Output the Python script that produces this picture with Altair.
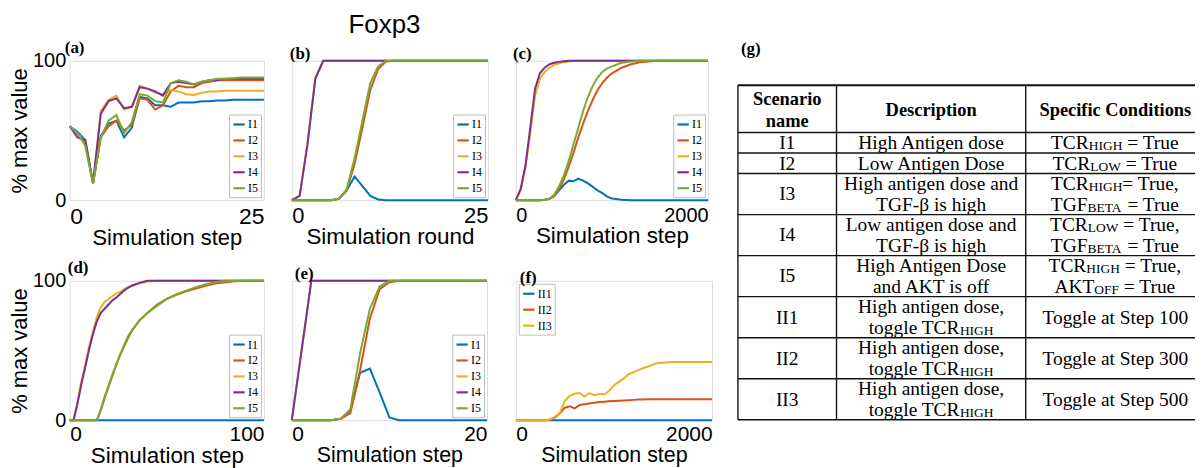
import re
import altair as alt
import pandas as pd

SANS = "Liberation Sans, Arial, Helvetica, sans-serif"
SERIF = "Liberation Serif, Times New Roman, serif"

I_NAMES = ["I1", "I2", "I3", "I4", "I5"]
I_COLORS = ["#0072BD", "#D95319", "#EDB120", "#7E2F8E", "#77AC30"]
II_NAMES = ["II1", "II2", "II3"]
II_COLORS = ["#0072BD", "#D95319", "#EDB120"]

# ---------------- panel (a) ----------------
a_x = [0, 1, 2, 3, 4, 5, 6, 7, 8, 9, 10, 11, 12, 13, 14, 15, 16, 17, 18, 19, 20, 21, 22, 23, 24, 25]
a_I1 = [53, 49, 43, 12, 46, 55, 57, 45, 52, 74, 73, 68, 68, 67, 70, 70, 70, 71, 71, 71.5, 71.5, 72, 72, 72, 72, 72]
a_I2 = [53, 48, 40, 12, 45, 53, 57, 50, 54, 73, 72, 65, 68, 78, 82, 81, 81, 84, 85, 86, 86, 86, 86, 86, 86, 86]
a_I3 = [53, 48, 41, 12, 64, 72, 75, 65, 67, 82, 80, 77, 76, 79, 78, 76, 75.5, 77, 78, 78, 78.5, 78.5, 78.5, 78.5, 78.5, 78.5]
a_I4 = [53, 45, 43, 12, 62, 71, 73, 66, 67, 81, 80, 78, 75, 84, 85, 84, 83, 85, 86, 86, 87, 87, 87, 87, 87, 87]
a_I5 = [53, 48, 39, 12, 45, 57, 61, 48, 56, 76, 75, 71, 70, 84, 86, 85, 83, 85, 86, 87, 87, 87.5, 88, 88, 88, 88]

# ---------------- panel (b) ----------------
b_x = [0, 1, 2, 3, 4, 5, 6, 7, 8, 9, 10, 11, 12, 13, 14, 15, 16, 17, 18, 19, 20, 21, 22, 23, 24, 25]
b_I1 = [0, 0, 0, 0, 0, 0, 1, 7, 17, 10, 3, 0.5, 0, 0, 0, 0, 0, 0, 0, 0, 0, 0, 0, 0, 0, 0]
b_I2 = [0, 0, 0, 0, 0, 0, 1, 7, 26, 52, 79, 94, 99.5, 100, 100, 100, 100, 100, 100, 100, 100, 100, 100, 100, 100, 100]
b_I3 = [0, 3, 41, 88, 100, 100, 100, 100, 100, 100, 100, 100, 100, 100, 100, 100, 100, 100, 100, 100, 100, 100, 100, 100, 100, 100]
b_I4 = [0, 3, 40, 87, 100, 100, 100, 100, 100, 100, 100, 100, 100, 100, 100, 100, 100, 100, 100, 100, 100, 100, 100, 100, 100, 100]
b_I5 = [0, 0, 0, 0, 0, 0, 1, 8, 30, 57, 84, 96, 100, 100, 100, 100, 100, 100, 100, 100, 100, 100, 100, 100, 100, 100]

# ---------------- panel (c) ----------------
c_x = [0, 50, 100, 150, 200, 250, 300, 350, 400, 450, 500, 550, 600, 650, 700, 750, 800, 850, 900, 950,
       1000, 1100, 1200, 1300, 1400, 1500, 1600, 1700, 1800, 1900, 2000]
c_I1 = [0, 0, 0, 0, 0, 0, 0.3, 1, 3, 7, 11, 14, 13.5, 15.5, 14, 12, 9.5, 7, 5, 2.5, 1.2, 0.3, 0, 0, 0, 0, 0, 0, 0, 0, 0]
c_I2 = [0, 0, 0, 0, 0, 0, 0.3, 1, 3, 8, 15, 24, 34, 45, 55, 64, 72, 79, 84, 88, 91, 95, 97.5, 99, 99.7, 100, 100, 100, 100, 100, 100]
c_I3 = [0, 7, 23, 48, 75, 87, 92, 95, 97, 98.2, 99, 99.5, 99.8, 100, 100, 100, 100, 100, 100, 100, 100, 100, 100, 100, 100, 100, 100, 100, 100, 100, 100]
c_I4 = [0, 8, 25, 52, 80, 91, 95, 97.5, 98.5, 99.2, 99.6, 100, 100, 100, 100, 100, 100, 100, 100, 100, 100, 100, 100, 100, 100, 100, 100, 100, 100, 100, 100]
c_I5 = [0, 0, 0, 0, 0, 0, 0.3, 1, 4, 10, 18, 28, 40, 52, 64, 74, 82, 88, 92, 94.5, 96, 98.5, 99.5, 100, 100, 100, 100, 100, 100, 100, 100]

# ---------------- panel (d) ----------------
d_x = [0, 2, 4, 6, 8, 10, 12, 14, 16, 18, 20, 22, 24, 26, 28, 30, 32, 34, 36, 38, 40, 45, 50, 55, 60, 65, 70, 75, 80, 85, 90, 95, 100]
d_I1 = [0, 0, 0, 0, 0, 0, 0, 0, 0, 0, 0, 0, 0, 0, 0, 0, 0, 0, 0, 0, 0, 0, 0, 0, 0, 0, 0, 0, 0, 0, 0, 0, 0]
d_I2 = [0, 0, 0, 0, 0, 0, 0, 0, 7, 16, 24, 32, 40, 47, 53, 59, 64, 68, 72, 74, 77, 83, 87, 90, 92.5, 94.5, 96.5, 98, 99, 99.7, 100, 100, 100]
d_I3 = [0, 0.5, 13, 28, 40, 53, 64, 74, 81, 85, 87, 89, 91, 92, 94, 95.5, 96.5, 97.5, 98.3, 99, 99.5, 100, 100, 100, 100, 100, 100, 100, 100, 100, 100, 100, 100]
d_I4 = [0, 0, 12, 26, 38, 51, 62, 71, 77, 80, 83, 86, 88, 90.5, 93, 95, 96.5, 97.5, 98.5, 99.3, 100, 100, 100, 100, 100, 100, 100, 100, 100, 100, 100, 100, 100]
d_I5 = [0, 0, 0, 0, 0, 0, 0, 0, 8, 17, 25, 33, 40, 47, 54, 60, 64.5, 68, 71.5, 74.5, 77, 82, 87, 90.5, 93, 95.5, 97.5, 99, 100, 100, 100, 100, 100]

# ---------------- panel (e) ----------------
e_x = [0, 1, 2, 3, 4, 5, 6, 7, 8, 9, 10, 11, 12, 13, 14, 15, 16, 17, 18, 19, 20]
e_I1 = [0, 0, 0, 0, 0, 1, 7, 34, 37, 20, 2, 0, 0, 0, 0, 0, 0, 0, 0, 0, 0]
e_I2 = [0, 0, 0, 0, 0, 1, 5, 36, 73, 94, 99, 100, 100, 100, 100, 100, 100, 100, 100, 100, 100]
e_I3 = [0, 50, 100, 100, 100, 100, 100, 100, 100, 100, 100, 100, 100, 100, 100, 100, 100, 100, 100, 100, 100]
e_I4 = [0, 50, 100, 100, 100, 100, 100, 100, 100, 100, 100, 100, 100, 100, 100, 100, 100, 100, 100, 100, 100]
e_I5 = [0, 0, 0, 0, 0, 1, 8, 48, 80, 96, 100, 100, 100, 100, 100, 100, 100, 100, 100, 100, 100]

# ---------------- panel (f) ----------------
f_x = [0, 100, 200, 300, 350, 400, 450, 500, 550, 600, 650, 700, 750, 800, 850, 900, 950, 1000, 1050, 1100,
       1150, 1200, 1250, 1300, 1350, 1400, 1450, 1500, 1600, 1700, 1800, 1900, 2000]
f_II1 = [0, 0, 0, 0, 0, 0, 0, 0, 0, 0, 0, 0, 0, 0, 0, 0, 0, 0, 0, 0, 0, 0, 0, 0, 0, 0, 0, 0, 0, 0, 0, 0, 0]
f_II2 = [0, 0, 0, 0, 0.5, 2, 5, 9, 10, 8.5, 11, 11.5, 12, 12.5, 13, 13.3, 13.6, 13.8, 14, 14.2, 14.4, 14.6, 14.8, 14.9, 15, 15, 15, 15, 15, 15, 15, 15, 15]
f_II3 = [0, 0, 0, 0, 0.5, 2.5, 5.5, 14, 17.5, 19, 19.5, 17, 19.5, 18, 19, 18.5, 21, 25, 27.5, 30, 33, 34.5, 36, 37.5, 38.5, 40, 41, 41.3, 41.7, 41.7, 41.7, 41.7, 41.7]

# ---------------- table (g) ----------------
tab_header = ["Scenario|name", "Description", "Specific Conditions"]
tab_names = ["I1", "I2", "I3", "I4", "I5", "II1", "II2", "II3"]
tab_desc = [["High Antigen dose"], ["Low Antigen Dose"],
            ["High antigen dose and", "TGF-\u03b2 is high"], ["Low antigen dose and", "TGF-\u03b2 is high"],
            ["High Antigen Dose", "and AKT is off"],
            ["High antigen dose,", "toggle TCR_{HIGH}"], ["High antigen dose,", "toggle TCR_{HIGH}"],
            ["High antigen dose,", "toggle TCR_{HIGH}"]]
tab_cond = [["TCR_{HIGH} = True"], ["TCR_{LOW} = True"],
            ["TCR_{HIGH}= True,", "TGF_{BETA} = True"], ["TCR_{LOW} = True,", "TGF_{BETA} = True"],
            ["TCR_{HIGH} = True,", "AKT_{OFF} = True"],
            ["Toggle at Step 100"], ["Toggle at Step 300"], ["Toggle at Step 500"]]


def long_df(x, names, series):
    rows = []
    for name, vals in zip(names, series):
        for xi, v in zip(x, vals):
            rows.append({"x": xi, "v": v, "s": name})
    return pd.DataFrame(rows)


def panel(df, label, xmax, xtitle, width, names, colors, show_y, legend_orient,
          xlabel_size, xtitle_size, label_pad, title_dx):
    x_axis = alt.Axis(values=[0, xmax], labelFlush=True, ticks=False, domain=False, grid=False,
                      title=xtitle, labelFontSize=xlabel_size, titleFontSize=xtitle_size,
                      labelPadding=label_pad, titlePadding=0, labelFont=SANS, titleFont=SANS,
                      titleFontWeight="normal", labelColor="black", titleColor="black", format="d")
    if show_y:
        y_axis = alt.Axis(values=[0, 100], ticks=False, domain=False, grid=False,
                          title="% max value", labelFontSize=20, titleFontSize=22,
                          labelPadding=4, titlePadding=1, labelFont=SANS, titleFont=SANS,
                          titleFontWeight="normal", labelColor="black", titleColor="black", format="d")
    else:
        y_axis = None
    legend = alt.Legend(orient=legend_orient, offset=3, padding=3, strokeColor="#bdbdbd",
                        fillColor="white", symbolType="stroke", symbolStrokeWidth=2.2,
                        symbolSize=130, labelFont=SERIF, labelFontSize=12, labelColor="black",
                        rowPadding=3, labelOffset=2, symbolOffset=0)
    return alt.Chart(df).mark_line(strokeWidth=2).encode(
        x=alt.X("x:Q", scale=alt.Scale(domain=[0, xmax], nice=False, zero=False), axis=x_axis),
        y=alt.Y("v:Q", scale=alt.Scale(domain=[0, 100], nice=False), axis=y_axis),
        color=alt.Color("s:N", title=None, scale=alt.Scale(domain=names, range=colors), legend=legend),
    ).properties(
        width=width, height=140,
        title=alt.TitleParams(label, anchor="start", frame="group", dx=title_dx, offset=-6,
                              font=SERIF, fontSize=17, fontWeight="bold", color="black"),
    )


pa = panel(long_df(a_x, I_NAMES, [a_I1, a_I2, a_I3, a_I4, a_I5]), "(a)", 25, "Simulation step", 195,
           I_NAMES, I_COLORS, True, "bottom-right", 23, 22, 5, -5)
pb = panel(long_df(b_x, I_NAMES, [b_I1, b_I2, b_I3, b_I4, b_I5]), "(b)", 25, "Simulation round", 197,
           I_NAMES, I_COLORS, False, "bottom-right", 22, 22.5, 5, -2)
pc = panel(long_df(c_x, I_NAMES, [c_I1, c_I2, c_I3, c_I4, c_I5]), "(c)", 2000, "Simulation step", 193,
           I_NAMES, I_COLORS, False, "bottom-right", 20, 22.5, 5, -3)
pd_ = panel(long_df(d_x, I_NAMES, [d_I1, d_I2, d_I3, d_I4, d_I5]), "(d)", 100, "Simulation step", 195,
            I_NAMES, I_COLORS, True, "bottom-right", 21, 22.5, 3, -2)
pe = panel(long_df(e_x, I_NAMES, [e_I1, e_I2, e_I3, e_I4, e_I5]), "(e)", 20, "Simulation step", 196,
           I_NAMES, I_COLORS, False, "bottom-right", 21, 21.5, 3, 3)
pf = panel(long_df(f_x, II_NAMES, [f_II1, f_II2, f_II3]), "(f)", 2000, "Simulation step", 197,
           II_NAMES, II_COLORS, False, "top-left", 21, 21.5, 3, 4)

# ---------------- table layout ----------------
TIMES = {" ": 250, ",": 250, "-": 333, ".": 250, "=": 564,
         "A": 722, "B": 667, "C": 667, "D": 722, "E": 611, "F": 556, "G": 722, "H": 722, "I": 333,
         "K": 722, "L": 611, "O": 722, "R": 667, "S": 556, "T": 611, "W": 944,
         "a": 444, "c": 444, "d": 500, "e": 444, "g": 500, "h": 500, "i": 278, "l": 278, "n": 500,
         "o": 500, "p": 500, "r": 333, "s": 389, "t": 278, "u": 500}
FS, FS_SUB, FS_HDR = 19.5, 13.5, 18.5
UNIT = 20.6                      # px per text line
TAB_W, TAB_H = 457, 140
COL_EDGES = [0, 99, 289, 459]
COL_CX = [49.5, 194, 379]
TOP = 1.2
HDR_H = 2.3
BASE = 0.31                      # baseline shift (units) from line centre


def tw(s, fs):
    return sum(TIMES.get(ch, 500) for ch in s) / 1000.0 * fs


row_h = [HDR_H] + [len(d) for d in tab_desc]
bounds_y = [TOP]
for h in row_h:
    bounds_y.append(bounds_y[-1] + h)

hrules = pd.DataFrame({"x": [COL_EDGES[0]] * len(bounds_y), "x2": [COL_EDGES[-1]] * len(bounds_y),
                       "y": bounds_y, "w": [2.0] + [1.4] * (len(bounds_y) - 1)})
vrules = pd.DataFrame({"x": COL_EDGES[:3], "y": [bounds_y[0]] * 3, "y2": [bounds_y[-1]] * 3})

hdr_rows, body_rows, seg_rows, sub_rows = [], [], [], []
hc = (bounds_y[0] + bounds_y[1]) / 2 + 0.05
for ci, h in enumerate(tab_header):
    lines = h.split("|")
    n = len(lines)
    for li, ln in enumerate(lines):
        yc = hc + (li - (n - 1) / 2) * 1.06
        hdr_rows.append({"x": COL_CX[ci], "y": yc + BASE, "t": ln})


def add_line(text, cx, yc):
    if "_{" not in text:
        body_rows.append({"x": cx, "y": yc + BASE, "t": text})
        return
    parts = [p for p in re.split(r"(_\{[^}]*\})", text) if p]
    segs = [(p[2:-1], True) if p.startswith("_{") else (p, False) for p in parts]
    total = sum(tw(t, FS_SUB if s else FS) for t, s in segs)
    x = cx - total / 2
    for t, s in segs:
        fs = FS_SUB if s else FS
        lead = len(t) - len(t.lstrip(" "))
        rec = {"x": x + tw(" " * lead, fs), "y": yc + BASE, "t": t.strip()}
        (sub_rows if s else seg_rows).append(rec)
        x += tw(t, fs)


for r in range(len(tab_names)):
    y0, y1 = bounds_y[r + 1], bounds_y[r + 2]
    mid = (y0 + y1) / 2
    body_rows.append({"x": COL_CX[0], "y": mid + BASE, "t": tab_names[r]})
    for col, lines in ((1, tab_desc[r]), (2, tab_cond[r])):
        n = len(lines)
        for li, ln in enumerate(lines):
            add_line(ln, COL_CX[col], mid + (li - (n - 1) / 2))

XS = alt.Scale(domain=[2, 459], nice=False, zero=False)
YS = alt.Scale(domain=[0, TAB_H / UNIT], nice=False, zero=False, reverse=True)


def txt(df, **kw):
    return alt.Chart(df).mark_text(font=SERIF, color="black", baseline="alphabetic", **kw).encode(
        x=alt.X("x:Q", scale=XS, axis=None), y=alt.Y("y:Q", scale=YS, axis=None), text="t:N")


t_hr = alt.Chart(hrules).mark_rule(color="#111111").encode(
    x=alt.X("x:Q", scale=XS, axis=None), x2="x2:Q", y=alt.Y("y:Q", scale=YS, axis=None),
    size=alt.Size("w:Q", scale=None, legend=None))
t_vr = alt.Chart(vrules).mark_rule(color="#111111", strokeWidth=1.4).encode(
    x=alt.X("x:Q", scale=XS, axis=None), y=alt.Y("y:Q", scale=YS, axis=None), y2="y2:Q")
t_hdr = txt(pd.DataFrame(hdr_rows), fontSize=FS_HDR, fontWeight="bold", align="center")
t_body = txt(pd.DataFrame(body_rows), fontSize=FS, align="center")
t_seg = txt(pd.DataFrame(seg_rows), fontSize=FS, align="left")
t_sub = txt(pd.DataFrame(sub_rows), fontSize=FS_SUB, align="left", dy=1)

table = alt.layer(t_hr, t_vr, t_hdr, t_body, t_seg, t_sub).properties(
    width=TAB_W, height=TAB_H,
    view=alt.ViewBackground(strokeOpacity=0),
    title=alt.TitleParams("(g)", anchor="start", frame="group", dx=1, offset=3,
                          font=SERIF, fontSize=17, fontWeight="bold", color="black"),
)

chart = alt.concat(
    pa, pb, pc, table, pd_, pe, pf,
    columns=4, spacing=alt.RowColnumber(row=81, column=28), bounds="flush", align="none",
).resolve_scale(color="independent").resolve_legend(color="independent").properties(
    title=alt.TitleParams("Foxp3", anchor="start", frame="group", dx=280, offset=0,
                          font=SANS, fontSize=26, fontWeight="normal", color="black"),
    padding={"top": 3, "left": 0, "right": 0, "bottom": 0},
).configure_view(stroke="#d0d0d0", strokeWidth=1).configure(background="white")

chart.save("out.html", embed_options={"renderer": "svg", "actions": False})
